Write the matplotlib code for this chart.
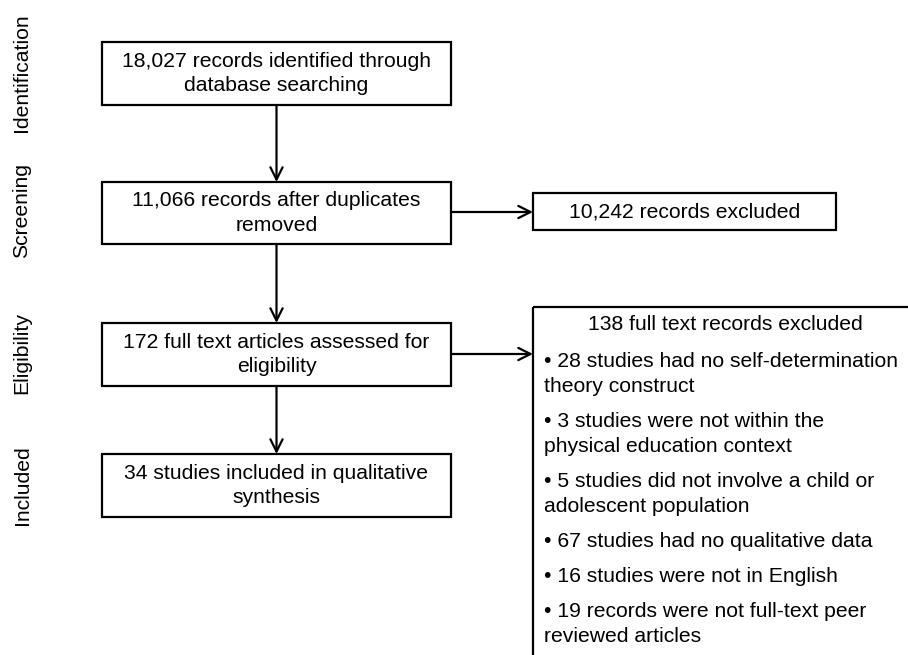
import matplotlib.pyplot as plt
from matplotlib.patches import Rectangle

plt.rcParams["font.family"] = ["Liberation Sans", "DejaVu Sans"]

# stage labels down the left side
stages = ["Identification", "Screening", "Eligibility", "Included"]
stage_y = [73, 210, 353, 485]

# main flow boxes
main_text = [
    "18,027 records identified through\ndatabase searching",
    "11,066 records after duplicates\nremoved",
    "172 full text articles assessed for\neligibility",
    "34 studies included in qualitative\nsynthesis",
]
main_top = [42, 182, 323, 454]
main_bot = [105, 244, 386, 517]

# exclusion boxes
excl_title = "10,242 records excluded"
ft_title = "138 full text records excluded"
ft_reasons = [
    "\u2022 28 studies had no self-determination\ntheory construct",
    "\u2022 3 studies were not within the\nphysical education context",
    "\u2022 5 studies did not involve a child or\nadolescent population",
    "\u2022 67 studies had no qualitative data",
    "\u2022 16 studies were not in English",
    "\u2022 19 records were not full-text peer\nreviewed articles",
]

fig = plt.figure(figsize=(9.08, 6.55), dpi=100)
ax = fig.add_axes([0, 0, 1, 1])
ax.set_xlim(0, 908)
ax.set_ylim(655, 0)
ax.axis("off")

fs = 15.2
lw = 1.6
ls = 1.37
left, right = 102, 451
cx = (left + right) / 2

for s, y in zip(stages, stage_y):
    ax.text(22, y, s, rotation=90, ha="center", va="center", fontsize=fs)

for txt, t, b in zip(main_text, main_top, main_bot):
    ax.add_patch(Rectangle((left, t), right - left, b - t, fill=False, lw=lw, ec="black"))
    ax.text(cx, (t + b) / 2, txt, ha="center", va="center", fontsize=fs, linespacing=ls)

arrow = dict(arrowstyle="->", lw=lw, color="black", mutation_scale=22, shrinkA=0, shrinkB=0)
for i in range(len(main_top) - 1):
    ax.annotate("", xy=(cx, main_top[i + 1]), xytext=(cx, main_bot[i]), arrowprops=arrow)

# screening exclusion
ax.add_patch(Rectangle((533, 193), 836 - 533, 230 - 193, fill=False, lw=lw, ec="black"))
ax.text((533 + 836) / 2, 211.5, excl_title, ha="center", va="center", fontsize=fs)
ax.annotate("", xy=(533, 212), xytext=(right, 212), arrowprops=arrow)

# full text exclusion (runs off the page edge)
ax.add_patch(Rectangle((533, 307), 420, 400, fill=False, lw=lw, ec="black", clip_on=True))
ax.annotate("", xy=(533, 354), xytext=(right, 354), arrowprops=arrow)
ax.text(725, 325, ft_title, ha="center", va="center", fontsize=fs)
y = 352
for r in ft_reasons:
    n = r.count("\n") + 1
    ax.text(544, y, r, ha="left", va="top", fontsize=fs, linespacing=ls)
    y += n * 25 + 10

fig.savefig("out.png", dpi=100)
